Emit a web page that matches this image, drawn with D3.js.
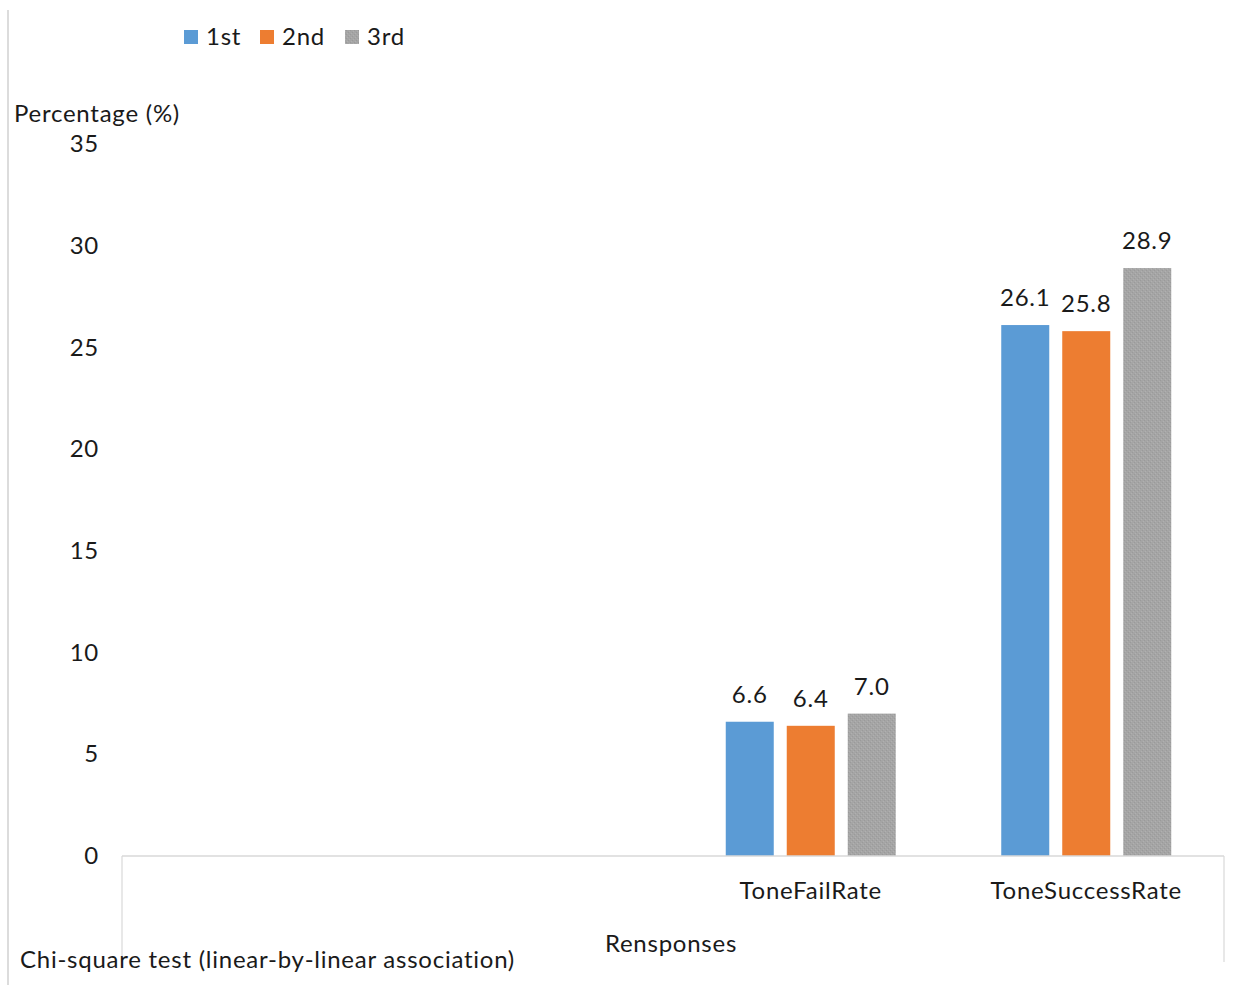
<!DOCTYPE html>
<html>
<head>
<meta charset="utf-8">
<script src="https://cdn.jsdelivr.net/npm/d3@7"></script>
<style>
  html, body { margin: 0; padding: 0; background: #fff; }
  svg { display: block; }
  text { font-family: Lato, "Noto Sans", sans-serif; fill: #1a1a1a; letter-spacing: 0.75px; }
</style>
</head>
<body>
<svg id="chart" width="1251" height="985"></svg>
<script>
// ---- data ----
const categories = ["", "", "ToneFailRate", "ToneSuccessRate"];
const seriesNames = ["1st", "2nd", "3rd"];
const series1st = [null, null, 6.6, 26.1];
const series2nd = [null, null, 6.4, 25.8];
const series3rd = [null, null, 7.0, 28.9];
const yTicks = [0, 5, 10, 15, 20, 25, 30, 35];
const colors = ["#5B9BD5", "#ED7D31", "url(#grayTex)"];
const legendColors = ["#5B9BD5", "#ED7D31", "#A5A5A5"];
const yTitle = "Percentage (%)";
const xTitle = "Rensponses";
const footnote = "Chi-square test (linear-by-linear association)";

const allSeries = [series1st, series2nd, series3rd];
const FS = 24;

const svg = d3.select("#chart");
const defs = svg.append("defs");
const pat = defs.append("pattern").attr("id", "grayTex")
  .attr("width", 4).attr("height", 4).attr("patternUnits", "userSpaceOnUse");
pat.append("rect").attr("width", 4).attr("height", 4).attr("fill", "#A5A5A5");
pat.append("rect").attr("x", 0).attr("y", 0).attr("width", 1).attr("height", 1).attr("fill", "#9a9a9a");
pat.append("rect").attr("x", 2).attr("y", 2).attr("width", 1).attr("height", 1).attr("fill", "#9a9a9a");
pat.append("rect").attr("x", 1).attr("y", 3).attr("width", 1).attr("height", 1).attr("fill", "#b0b0b0");
pat.append("rect").attr("x", 3).attr("y", 1).attr("width", 1).attr("height", 1).attr("fill", "#b0b0b0");

const plotLeft = 122, plotRight = 1224, plotTop = 144, plotBottom = 856;

const x = d3.scaleBand().domain(d3.range(categories.length)).range([plotLeft, plotRight]).padding(0);
const bw = x.bandwidth();
const xInner = d3.scaleBand().domain(d3.range(seriesNames.length))
  .range([bw / 2 - 85, bw / 2 + 85]).paddingInner(0.213).paddingOuter(0);
const y = d3.scaleLinear().domain([0, 35]).range([plotBottom, plotTop]);

// page border line
svg.append("line").attr("x1", 8).attr("x2", 8).attr("y1", 10).attr("y2", 985)
  .attr("stroke", "#d0d0d0").attr("stroke-width", 1.5);

// bars
allSeries.forEach((vals, si) => {
  const g = svg.append("g");
  const data = vals.map((v, i) => ({ v, i })).filter(d => d.v != null);
  g.selectAll("rect").data(data).join("rect")
    .attr("x", d => x(d.i) + xInner(si))
    .attr("y", d => y(d.v))
    .attr("width", xInner.bandwidth())
    .attr("height", d => y(0) - y(d.v))
    .attr("fill", colors[si]);
  g.selectAll("text").data(data).join("text")
    .attr("x", d => x(d.i) + xInner(si) + xInner.bandwidth() / 2)
    .attr("y", d => y(d.v) - 19)
    .attr("text-anchor", "middle")
    .attr("font-size", FS)
    .text(d => d.v.toFixed(1));
});

// x axis line and borders
svg.append("line").attr("x1", plotLeft).attr("x2", plotRight).attr("y1", y(0)).attr("y2", y(0))
  .attr("stroke", "#d9d9d9").attr("stroke-width", 1.5);
[plotLeft, plotRight].forEach(px => {
  svg.append("line").attr("x1", px).attr("x2", px).attr("y1", y(0)).attr("y2", 962)
    .attr("stroke", "#d9d9d9").attr("stroke-width", 1.2);
});

// x axis labels
const xAxis = d3.axisBottom(x).tickSize(0).tickPadding(26).tickFormat(i => categories[i]);
const gx = svg.append("g").attr("transform", `translate(0,${y(0)})`).call(xAxis);
gx.select(".domain").remove();
gx.selectAll("text").attr("font-size", FS).attr("fill", "#1a1a1a")
  .style("font-family", "Lato, 'Noto Sans', sans-serif");

// y axis
const yAxis = d3.axisLeft(y).tickValues(yTicks).tickSize(0).tickPadding(23).tickFormat(d3.format("d"));
const gy = svg.append("g").attr("transform", `translate(${plotLeft},0)`).call(yAxis);
gy.select(".domain").remove();
gy.selectAll("text").attr("font-size", FS).attr("fill", "#1a1a1a")
  .style("font-family", "Lato, 'Noto Sans', sans-serif");

// titles
svg.append("text").attr("x", 14).attr("y", 122).attr("font-size", FS).text(yTitle);
svg.append("text").attr("x", 671).attr("y", 952).attr("text-anchor", "middle").attr("font-size", FS).text(xTitle);
svg.append("text").attr("x", 20).attr("y", 968).attr("font-size", FS).text(footnote);

// legend
const legendX = [184, 260, 345];
const lg = svg.append("g");
seriesNames.forEach((n, i) => {
  lg.append("rect").attr("x", legendX[i]).attr("y", 30).attr("width", 14).attr("height", 14)
    .attr("fill", i === 2 ? colors[2] : legendColors[i]);
  lg.append("text").attr("x", legendX[i] + 22).attr("y", 45).attr("font-size", FS).text(n);
});
</script>
</body>
</html>
